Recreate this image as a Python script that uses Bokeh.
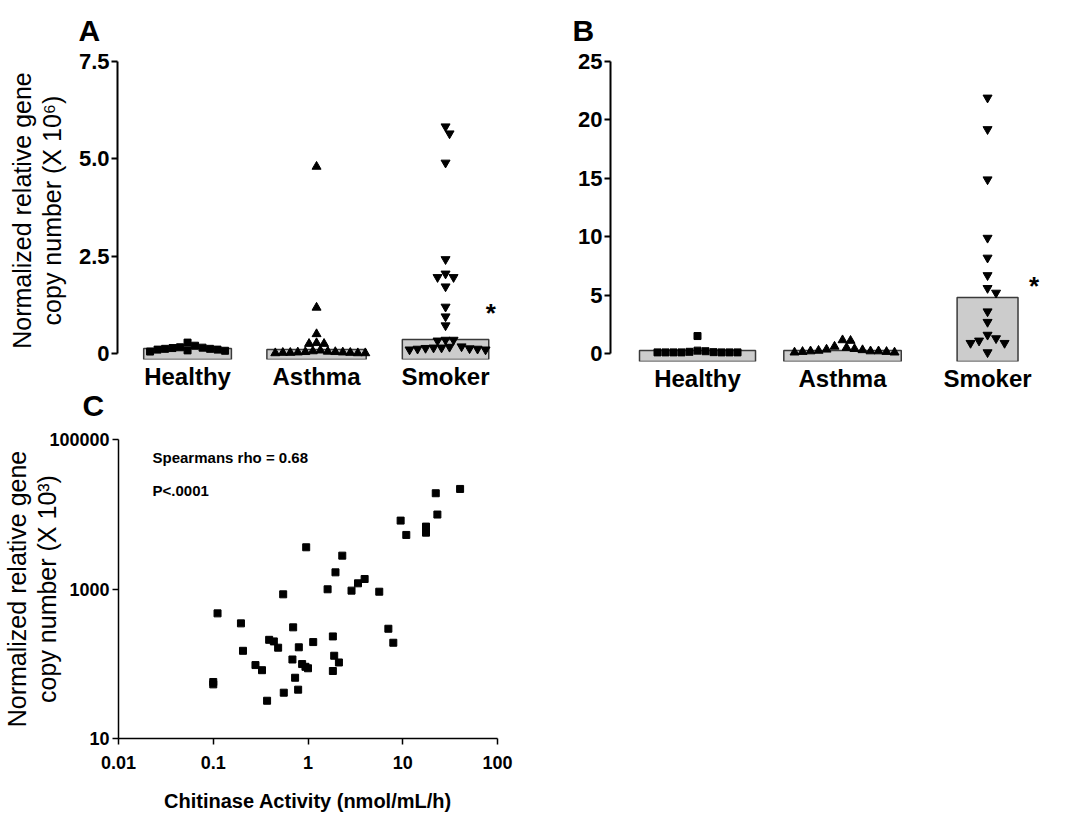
from bokeh.plotting import figure
from bokeh.models import Range1d, FixedTicker, Label, Title
from bokeh.layouts import column, row
from bokeh.embed import file_html
from bokeh.resources import INLINE

# ---------------- data ----------------
categories = ["Healthy", "Asthma", "Smoker"]

# Panel A (x 10^6)
a_healthy = [0.28, 0.2, 0.16, 0.15, 0.14, 0.12, 0.12, 0.1, 0.1, 0.08, 0.07, 0.05]
a_asthma = [4.8, 1.18, 0.5, 0.27, 0.25, 0.25, 0.08, 0.06, 0.05, 0.04, 0.04, 0.03,
            0.03, 0.02, 0.02, 0.02, 0.01, 0.01, 0.01]
a_smoker = [5.83, 5.65, 4.9, 2.42, 2.05, 1.96, 1.96, 1.72, 1.2, 0.95, 0.72, 0.35, 0.35, 0.33,
            0.18, 0.17, 0.15, 0.15, 0.14, 0.13, 0.12, 0.12, 0.1, 0.1]
a_bar = [0.13, 0.10, 0.36]

# Panel B
b_healthy = [1.5, 0.25, 0.2, 0.15, 0.12, 0.1, 0.1, 0.1, 0.1, 0.1, 0.1, 0.1]
b_asthma = [1.15, 1.1, 0.6, 0.5, 0.4, 0.35, 0.3, 0.25, 0.2, 0.2, 0.2, 0.15, 0.15, 0.1, 0.1]
b_smoker = [21.9, 19.2, 14.9, 9.9, 8.2, 6.7, 5.6, 5.2, 3.6, 2.7, 1.6, 1.3, 1.1, 0.9, 0.9, 0.1]
b_bar = [0.26, 0.26, 4.8]

# Panel C
c_activity = [0.111, 0.1, 0.1, 0.196, 0.206, 0.279, 0.327, 0.37, 0.389, 0.436,
              0.484, 0.555, 0.547, 0.697, 0.685, 0.731, 0.787, 0.8, 0.867, 0.94,
              1.0, 0.957, 1.135, 1.61, 1.83, 1.83, 1.89, 2.12, 1.95, 2.3,
              2.88, 3.37, 3.96, 5.65, 7.05, 7.95, 9.5, 10.9, 17.6, 17.6,
              22.3, 23.2, 40.3]
c_copies = [472, 57, 53, 347, 149, 96, 82, 32, 209, 199,
            164, 41, 849, 307, 114, 65, 45, 166, 99, 91,
            87, 3614, 195, 991, 232, 80, 128, 104, 1671, 2793,
            951, 1191, 1361, 920, 294, 191, 8222, 5285, 6837, 5673,
            19100, 9910, 21800]

a_yticks = [0, 2.5, 5, 7.5]
a_ylabels = {0: "0", 2.5: "2.5", 5: "5.0", 7.5: "7.5"}
b_yticks = [0, 5, 10, 15, 20, 25]
c_xticks = [0.01, 0.1, 1, 10, 100]
c_yticks = [10, 1000, 100000]

ylabel_a = "Normalized relative gene\ncopy number (X 10\u2076)"
ylabel_c = "Normalized relative gene\ncopy number (X 10\u00b3)"
xlabel_c = "Chitinase Activity (nmol/mL/h)"

# ---------------- style ----------------
FONT = "Liberation Sans"
BAR_FILL = "#cccccc"
BAR_LINE = "#3a3a3a"
MARKERS = ["square", "triangle", "inverted_triangle"]
MSIZE = [7, 9, 9]


def swarm(values, px_x, px_y, d):
    """GraphPad-like column scatter: horizontal offsets (data units) avoiding overlap."""
    order = sorted(range(len(values)), key=lambda i: -values[i])
    placed = []
    offs = [0.0] * len(values)
    cands = [0.0]
    for j in range(1, 40):
        cands += [j * d / 2.0, -j * d / 2.0]
    for i in order:
        y = values[i] * px_y
        chosen = 0.0
        for c in cands:
            if all((c - px) ** 2 + (y - py) ** 2 >= d * d for px, py in placed):
                chosen = c
                break
        placed.append((chosen, y))
        offs[i] = chosen / px_x
    return offs


def style_common(p):
    p.grid.visible = False
    p.outline_line_color = None
    p.background_fill_color = "white"
    p.border_fill_color = "white"


def style_letter(t, offset, standoff):
    t.text_font = FONT
    t.text_font_size = "30px"
    t.text_font_style = "bold"
    t.text_color = "black"
    t.align = "left"
    t.vertical_align = "top"
    t.offset = offset
    t.standoff = standoff


def style_ylabel(ax, standoff):
    ax.axis_label_text_font = FONT
    ax.axis_label_text_font_size = "25px"
    ax.axis_label_text_font_style = "normal"
    ax.axis_label_text_color = "black"
    ax.axis_label_text_line_height = 1.08
    ax.axis_label_standoff = standoff


def star(p, x, y):
    p.add_layout(Label(x=x, y=y, text="*", text_font=FONT, text_font_size="26px",
                       text_font_style="bold", text_align="center", text_baseline="middle",
                       text_color="black"))


def column_panel(letter, groups, bars, bar_widths, xr, yr, fw, fh, left, right, top, bottom,
                 yticks, ylabels, px_x, px_y, base, dist, letter_offset):
    p = figure(title=letter, x_range=Range1d(*xr), y_range=Range1d(*yr), frame_width=fw,
               frame_height=fh, min_border_left=left, min_border_right=right,
               min_border_top=top, min_border_bottom=bottom, output_backend="svg",
               toolbar_location=None)
    style_common(p)
    style_letter(p.title, letter_offset, 25)
    xs = list(range(len(categories)))
    p.vbar(x=xs, top=bars, bottom=base, width=bar_widths, fill_color=BAR_FILL,
           line_color=BAR_LINE, line_width=1.5)
    for k, vals in enumerate(groups):
        offs = swarm(vals, px_x, px_y, dist[k])
        p.scatter(x=[k + o for o in offs], y=vals, marker=MARKERS[k], size=MSIZE[k],
                  fill_color="black", line_color="black")
    # x axis: category labels only
    xa = p.xaxis[0]
    xa.ticker = FixedTicker(ticks=xs)
    xa.major_label_overrides = {i: c for i, c in enumerate(categories)}
    xa.axis_line_color = None
    xa.major_tick_line_color = None
    xa.major_tick_in = 0
    xa.major_tick_out = 0
    xa.minor_tick_line_color = None
    xa.minor_tick_in = 0
    xa.minor_tick_out = 0
    xa.major_label_standoff = 3
    xa.major_label_text_font = FONT
    xa.major_label_text_font_size = "24px"
    xa.major_label_text_font_style = "bold"
    xa.major_label_text_color = "black"
    # y axis
    ya = p.yaxis[0]
    ya.ticker = FixedTicker(ticks=yticks)
    if ylabels:
        ya.major_label_overrides = ylabels
    ya.bounds = (yticks[0], yticks[-1])
    ya.axis_line_width = 2
    ya.axis_line_color = "black"
    ya.major_tick_line_width = 2
    ya.major_tick_in = 0
    ya.major_tick_out = 6
    ya.minor_tick_line_color = None
    ya.major_label_standoff = 2
    ya.major_label_text_font = FONT
    ya.major_label_text_font_size = "22px"
    ya.major_label_text_font_style = "bold"
    ya.major_label_text_color = "black"
    return p


# ---------------- Panel A ----------------
A_PX_X, A_PX_Y = 129.0, 38.9
A_BASE = -0.154
pA = column_panel("A", [a_healthy, a_asthma, a_smoker], a_bar, [0.68, 0.77, 0.67],
                  (-0.543, 2.457), (A_BASE, 7.5), 387, 298, 117, 16, 61, 63,
                  a_yticks, a_ylabels, A_PX_X, A_PX_Y, A_BASE, [7.5, 7.5, 8.0], -39)
pA.yaxis[0].axis_label = ylabel_a
style_ylabel(pA.yaxis[0], 10)
star(pA, 2.35, 1.05)
# panel letter C sits under panel A's category labels
tC = Title(text="C")
style_letter(tC, -35, -7)
pA.add_layout(tC, "below")

# ---------------- Panel B ----------------
B_PX_X, B_PX_Y = 145.0, 11.68
B_BASE = -0.68
pB = column_panel("B", [b_healthy, b_asthma, b_smoker], b_bar, [0.8, 0.81, 0.42],
                  (-0.6, 2.434), (B_BASE, 25), 440, 300, 90, 16, 61, 26,
                  b_yticks, None, B_PX_X, B_PX_Y, B_BASE, [8.0, 8.0, 8.5], -38)
star(pB, 2.32, 5.8)

# ---------------- Panel C ----------------
pC = figure(x_axis_type="log", y_axis_type="log",
            x_range=Range1d(c_xticks[0], c_xticks[-1]), y_range=Range1d(c_yticks[0], c_yticks[-1]),
            frame_width=379, frame_height=299, min_border_left=118, min_border_right=60,
            min_border_top=17, min_border_bottom=70, output_backend="svg", toolbar_location=None)
style_common(pC)
pC.scatter(x=c_activity, y=c_copies, marker="square", size=7, fill_color="black", line_color="black")
for ax, ticks in ((pC.xaxis[0], c_xticks), (pC.yaxis[0], c_yticks)):
    ax.ticker = FixedTicker(ticks=ticks)
    ax.major_label_overrides = {t: str(t) for t in ticks}
    ax.axis_line_width = 1.5
    ax.axis_line_color = "black"
    ax.major_tick_line_width = 1.5
    ax.major_tick_in = 0
    ax.major_tick_out = 6
    ax.minor_tick_line_color = None
    ax.major_label_standoff = 3
    ax.major_label_text_font = FONT
    ax.major_label_text_font_size = "18px"
    ax.major_label_text_font_style = "bold"
    ax.major_label_text_color = "black"
pC.xaxis[0].major_label_standoff = 11
pC.yaxis[0].axis_label = ylabel_c
style_ylabel(pC.yaxis[0], -15)
pC.xaxis[0].axis_label = xlabel_c
pC.xaxis[0].axis_label_text_font = FONT
pC.xaxis[0].axis_label_text_font_size = "20px"
pC.xaxis[0].axis_label_text_font_style = "bold"
pC.xaxis[0].axis_label_text_color = "black"
pC.xaxis[0].axis_label_standoff = 18
pC.add_layout(Label(x=0.02286, y=57400, text="Spearmans rho = 0.68", text_font=FONT,
                    text_font_size="15px", text_font_style="bold", text_baseline="middle",
                    text_color="black"))
pC.add_layout(Label(x=0.02286, y=20800, text="P<.0001", text_font=FONT,
                    text_font_size="15px", text_font_style="bold", text_baseline="middle",
                    text_color="black"))

layout = column(row(pA, pB), pC)
open("out.html", "w").write(file_html(layout, INLINE))
